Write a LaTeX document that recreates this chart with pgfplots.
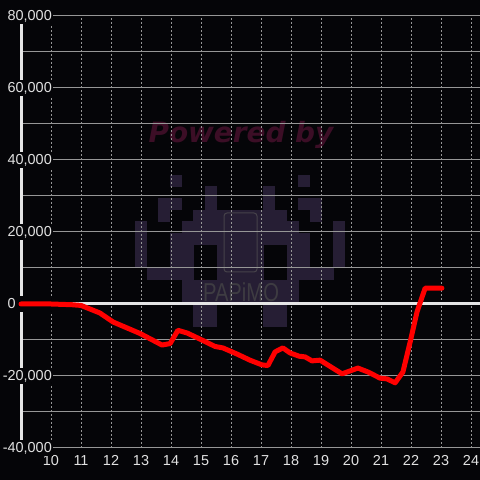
\documentclass[border=0pt]{standalone}
\usepackage{fontspec}
\setmainfont{Liberation Sans}
\newfontfamily\dejavu{DejaVu Sans}
\usepackage{pgfplots}
\pgfplotsset{compat=1.18}
\definecolor{bg}{RGB}{5,5,8}
\definecolor{inv}{RGB}{38,30,52}
\definecolor{phone}{RGB}{70,66,74}
\definecolor{papimo}{RGB}{62,60,66}
\definecolor{pw}{RGB}{60,14,38}
\definecolor{gridc}{RGB}{150,150,150}
\definecolor{lbl}{RGB}{225,225,225}
\definecolor{axisc}{RGB}{230,230,230}
\begin{document}
\begin{tikzpicture}[x=1bp,y=1bp]
\useasboundingbox (0,0) rectangle (480,480);
\fill[bg] (0,0) rectangle (480,480);
% watermark
\foreach \c/\r/\w in {3/0/1, 14/0/1, 6/1/1, 11/1/1, 2/2/2, 6/2/1, 11/2/1, 14/2/2, 2/3/1, 5/3/8, 15/3/1, 0/4/1, 4/4/10, 17/4/1, 0/5/1, 3/5/12, 17/5/1, 0/6/1, 3/6/2, 7/6/4, 13/6/2, 17/6/1, 0/7/1, 3/7/2, 7/7/4, 13/7/2, 17/7/1, 1/8/4, 7/8/4, 13/8/4, 4/9/10, 4/10/10, 5/11/2, 11/11/2, 5/12/2, 11/12/2}
  \fill[inv] ({135+11.67*\c},{305.2-11.67*\r}) rectangle ++({11.67*\w+0.2},-11.87);
\draw[phone, line width=1bp, rounded corners=3bp] (224,267) rectangle (257,208);
\node[text=papimo, font=\fontsize{26}{26}\selectfont, inner sep=0pt] at (241,188) {\scalebox{0.78}[1]{PAPiMO}};
\node[text=pw, font=\dejavu\bfseries\itshape\fontsize{28}{28}\selectfont, inner sep=0pt] at (241,345) {Powered by};
\begin{axis}[at={(21bp,32bp)}, anchor=south west, scale only axis, width=459bp, height=432bp,
  xmin=9, xmax=24.3, ymin=-40000, ymax=80000, clip=false,
  scaled y ticks=false,
  /pgf/number format/assume math mode=true,
  axis lines=left,
  x axis line style={draw=none},
  y axis line style={-, draw=axisc, line width=3bp},
  xtick={10,...,24},
  ytick={-40000,-20000,...,80000},
  minor ytick={-30000,-10000,...,70000},
  yticklabels={{-40,000},{-20,000},{\rlap{0}\phantom{00,000}},{20,000},{40,000},{60,000},{80,000}},
  major tick length=0pt, minor tick length=0pt, tick style={draw=none},
  xmajorgrids, ymajorgrids, yminorgrids,
  grid style={draw=gridc, line width=1bp},
  major grid style={draw=gridc, line width=1bp},
  minor grid style={draw=gridc, line width=1bp},
  x grid style={dash pattern=on 1.5bp off 2.5bp, line width=0.8bp},
  xticklabel style={text=lbl, font=\fontsize{14.5}{16}\selectfont, inner sep=0pt, yshift=-7bp},
  yticklabel style={text=lbl, font=\fontsize{14.5}{16}\selectfont, anchor=east, inner xsep=1bp, inner ysep=2bp, fill=bg, xshift=32bp},
]
\addplot[draw=axisc, line width=3bp, forget plot] coordinates {(9,0) (24.3,0)};
\addplot[draw=red, line width=5bp, line join=round, line cap=round] coordinates {
(9,0) (10,0) (10.7,-200) (11,-400) (11.63,-2500) (12.07,-5000) (12.97,-8200)
(13.7,-11400) (13.97,-11000) (14.23,-7300) (14.55,-8100) (15.03,-10000)
(15.47,-11800) (15.73,-12200) (16.2,-13900) (16.63,-15600) (17.03,-16900)
(17.23,-17100) (17.47,-13300) (17.73,-12200) (17.97,-13600) (18.27,-14500)
(18.47,-14700) (18.7,-15800) (18.97,-15600) (19.7,-19400) (20.23,-17800)
(20.57,-18900) (20.97,-20600) (21.2,-20800) (21.47,-21900) (21.73,-18900)
(21.97,-10600) (22.2,-2200) (22.47,4400) (23.03,4400)
};
\end{axis}
\end{tikzpicture}
\end{document}
